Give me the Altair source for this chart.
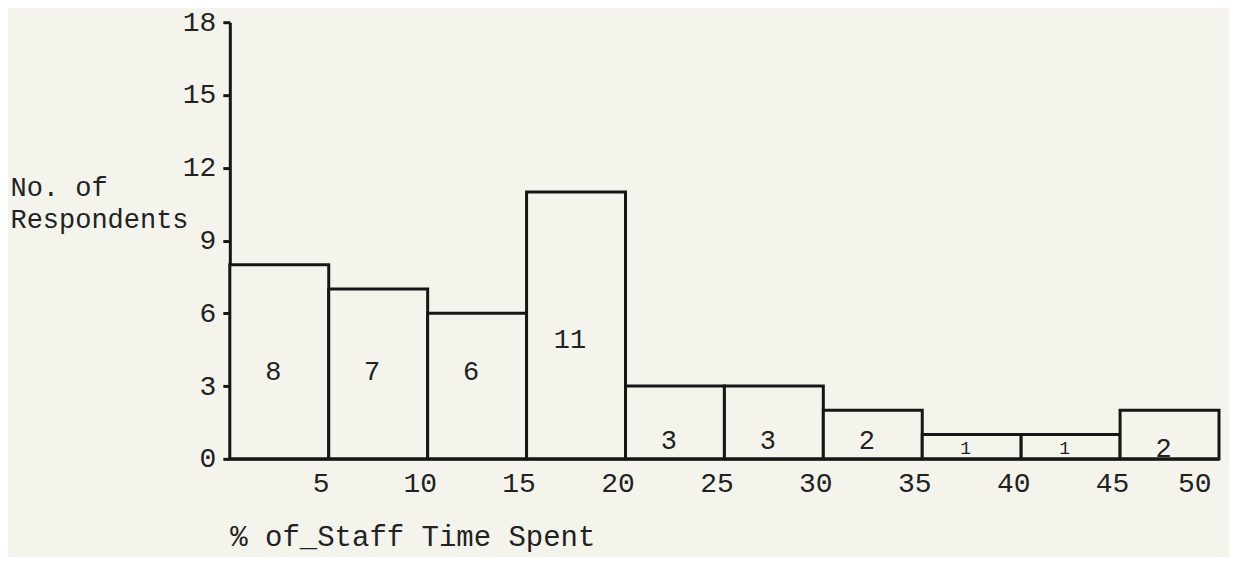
import altair as alt
import pandas as pd

# Data
bin_start = [0, 5, 10, 15, 20, 25, 30, 35, 40, 45]
bin_end = [5, 10, 15, 20, 25, 30, 35, 40, 45, 50]
counts = [8, 7, 6, 11, 3, 3, 2, 1, 1, 2]
x_ticks = [5, 10, 15, 20, 25, 30, 35, 40, 45, 50]
y_ticks = [0, 3, 6, 9, 12, 15, 18]

x_title = "% of_Staff Time Spent"
y_title = ["No. of", "Respondents"]

df = pd.DataFrame({"start": bin_start, "end": bin_end, "n": counts})

FONT = "Liberation Mono"
INK = "#161616"
BG = "#f4f4ec"

x_scale = alt.Scale(domain=[0, 50], nice=False, zero=False)
y_scale = alt.Scale(domain=[0, 18], nice=False)

base = alt.Chart(df)

bars = base.mark_rect(fill=BG, stroke=INK, strokeWidth=3).encode(
    x=alt.X(
        "start:Q",
        scale=x_scale,
        title=x_title,
        axis=alt.Axis(
            values=x_ticks,
            ticks=False,
            labelOffset=-8,
            labelPadding=11,
            titleX=0,
            titleY=78,
            titleAlign="left",
            titleBaseline="middle",
            titleFontSize=29,
        ),
    ),
    x2="end:Q",
    y=alt.Y(
        "n:Q",
        scale=y_scale,
        title=y_title,
        axis=alt.Axis(
            values=y_ticks,
            tickSize=7,
            tickWidth=3,
            tickColor=INK,
            labelPadding=7,
            titleAngle=0,
            titleAlign="left",
            titleBaseline="top",
            titleX=-220,
            titleY=152,
            titleLineHeight=32,
            titleFontSize=27,
        ),
    ),
    y2=alt.datum(0),
)

labels = base.transform_calculate(
    mid="(datum.start + datum.end) / 2",
    ly="datum.n >= 10 ? 4.9 : (datum.n >= 6 ? 3.6 : (datum.n >= 3 || (datum.n == 2 && datum.start < 40) ? 0.72 : 0.42))",
).mark_text(font=FONT, color="#222", baseline="middle", dx=-6).encode(
    x=alt.X("mid:Q", scale=x_scale, title=x_title),
    y=alt.Y("ly:Q", scale=y_scale, title=y_title),
    text="n:Q",
    size=alt.condition("datum.n == 1", alt.value(18), alt.value(27)),
)

chart = (
    alt.layer(bars, labels)
    .properties(
        width=990,
        height=437,
        autosize=alt.AutoSizeParams(type="none"),
        padding={"left": 222, "top": 14, "right": 10, "bottom": 98},
        background=BG,
    )
    .configure_view(stroke=None)
    .configure_axis(
        grid=False,
        domainColor=INK,
        domainWidth=3,
        labelFont=FONT,
        labelFontSize=28,
        labelColor="#222",
        titleFont=FONT,
        titleFontWeight="normal",
        titleColor="#222",
    )
)

chart.save("out.html", embed_options={"renderer": "svg", "actions": False})
